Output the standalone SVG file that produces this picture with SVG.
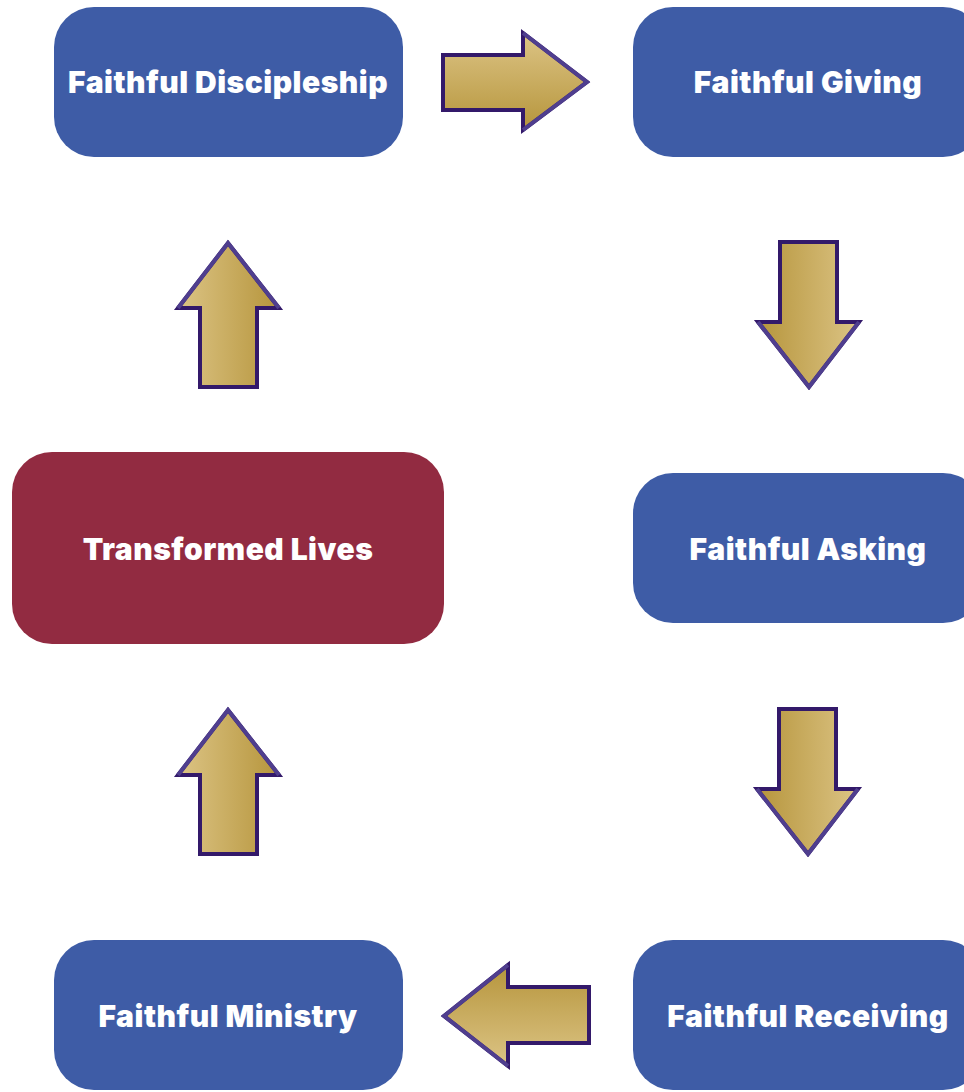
<svg xmlns="http://www.w3.org/2000/svg" width="964" height="1092" viewBox="0 0 964 1092">
<style>
.box{fill:#3e5ca6}
.red{fill:#922b41}
.lbl{font-family:Inter,"Liberation Sans",sans-serif;font-weight:900;font-size:30px;letter-spacing:0.5px;fill:#ffffff;text-anchor:middle;dominant-baseline:central}
.arr{stroke:#33196a;stroke-width:4;stroke-linejoin:miter}
.hi{fill:none;stroke:#4f3e8e;stroke-width:4;stroke-linecap:butt}
</style>
<defs>
<linearGradient id="gR" x1="0" y1="0" x2="0" y2="1"><stop offset="0" stop-color="#dcc485"/><stop offset="1" stop-color="#b6953c"/></linearGradient>
<linearGradient id="gL" x1="0" y1="0" x2="0" y2="1"><stop offset="0" stop-color="#b6953c"/><stop offset="1" stop-color="#dcc485"/></linearGradient>
<linearGradient id="gU" x1="0" y1="0" x2="1" y2="0"><stop offset="0" stop-color="#dcc485"/><stop offset="1" stop-color="#b6953c"/></linearGradient>
<linearGradient id="gD" x1="0" y1="0" x2="1" y2="0"><stop offset="0" stop-color="#b6953c"/><stop offset="1" stop-color="#dcc485"/></linearGradient>
</defs>
<g id="connectors">
<polygon class="arr" fill="url(#gR)" points="443,55 523,55 523,33 587,82 523,130 523,110 443,110"/>
<polyline class="hi" points="523,33 587,82 523,130"/>
<polygon class="arr" fill="url(#gD)" points="780,242 837,242 837,322 859,322 809,387 758,322 780,322"/>
<polyline class="hi" points="859,322 809,387 758,322"/>
<polygon class="arr" fill="url(#gD)" points="779,709 836,709 836,789 858,789 808,854 757,789 779,789"/>
<polyline class="hi" points="858,789 808,854 757,789"/>
<polygon class="arr" fill="url(#gL)" points="589,987 508,987 508,965 444,1016 508,1066 508,1043 589,1043"/>
<polyline class="hi" points="508,965 444,1016 508,1066"/>
<polygon class="arr" fill="url(#gU)" points="200,854 257,854 257,775 279,775 228,710 178,775 200,775"/>
<polyline class="hi" points="178,775 228,710 279,775"/>
<polygon class="arr" fill="url(#gU)" points="200,387 257,387 257,308 279,308 228,243 178,308 200,308"/>
<polyline class="hi" points="178,308 228,243 279,308"/>
</g>
<g id="discipleship"><rect class="box" x="54" y="7" width="349" height="150" rx="40"/><text class="lbl" x="228" y="82">Faithful Discipleship</text></g>
<g id="giving"><rect class="box" x="633" y="7" width="350" height="150" rx="40"/><text class="lbl" x="808" y="82">Faithful Giving</text></g>
<g id="asking"><rect class="box" x="633" y="473" width="350" height="150" rx="40"/><text class="lbl" x="808" y="549">Faithful Asking</text></g>
<g id="receiving"><rect class="box" x="633" y="940" width="350" height="150" rx="40"/><text class="lbl" x="808" y="1016">Faithful Receiving</text></g>
<g id="ministry"><rect class="box" x="54" y="940" width="349" height="150" rx="40"/><text class="lbl" x="228" y="1016">Faithful Ministry</text></g>
<g id="transformed"><rect class="red" x="12" y="452" width="432" height="192" rx="40"/><text class="lbl" x="228" y="549">Transformed Lives</text></g>
</svg>
